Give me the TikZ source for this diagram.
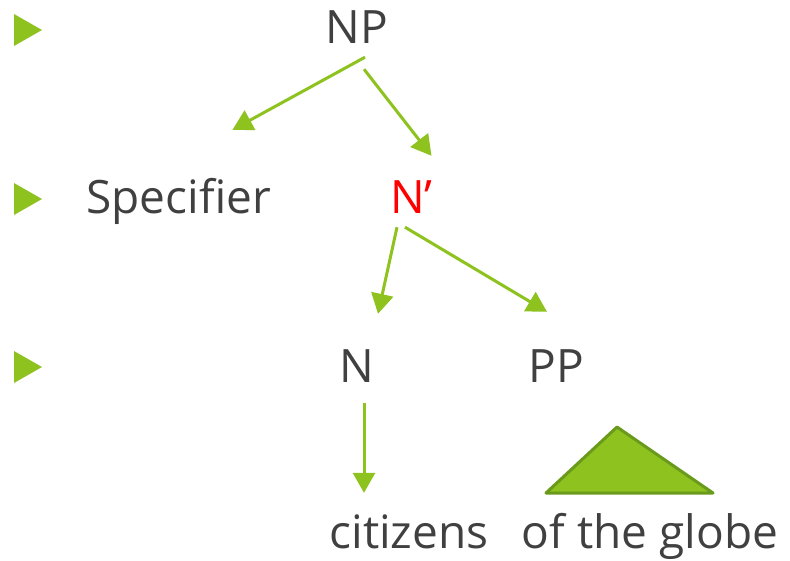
\documentclass[tikz,border=0pt]{standalone}
\usepackage{fontspec}
\setmainfont{Open Sans}
\usepackage{tikz}
\usetikzlibrary{arrows.meta}
\definecolor{leaf}{HTML}{8DC21F}
\definecolor{leafdark}{HTML}{6A9A1B}
\definecolor{ink}{HTML}{404040}

\begin{document}
\begin{tikzpicture}[x=1pt,y=-1pt,
    word/.style={inner sep=0pt,text height=34pt,text depth=10pt,anchor=base,text=ink,
      font=\fontsize{46}{50}\selectfont},
    arr/.style={draw=leaf,line width=3pt,-{Triangle[length=20pt,width=22pt]}}]
      \useasboundingbox (0,0) rectangle (790,560);

      \foreach \y in {30,199,367}
        \fill[leaf] (14,\y-16) -- (42,\y) -- (14,\y+16) -- cycle;

      \node (NP) at (357,43) [word] {NP};
      \node (spec) at (178.5,213) [word] {Specifier};
      \node (Nbar) at (411.5,213) [word,text=red] {N’};
      \node (N) at (356.5,382) [word] {N};
      \node (PP) at (556.5,382) [word] {PP};
      \node (citizens) at (409,548) [word] {citizens};
      \node (globe) at (650,548) [word] {of the globe};

    \draw[arr] ([shift={(8,4)}]NP.south) -- ([shift={(54,-49)}]spec.north);
    \draw[arr] ([shift={(7,16)}]NP.south) -- ([shift={(20,-23)}]Nbar.north);
    \draw[arr] ([shift={(-14.5,4)}]Nbar.south) -- ([shift={(21.5,-34)}]N.north);
    \draw[arr] ([shift={(-6.5,4)}]Nbar.south) -- ([shift={(-9.5,-36)}]PP.north);
    \draw[arr] ([shift={(7.5,11)}]N.south) -- ([shift={(-45,-21)}]citizens.north);

    \draw[fill=leaf,draw=leafdark,line width=3pt,line join=round]
    (546,493) -- (617,427) -- (713,493) -- cycle;
  \end{tikzpicture}
\end{document}
